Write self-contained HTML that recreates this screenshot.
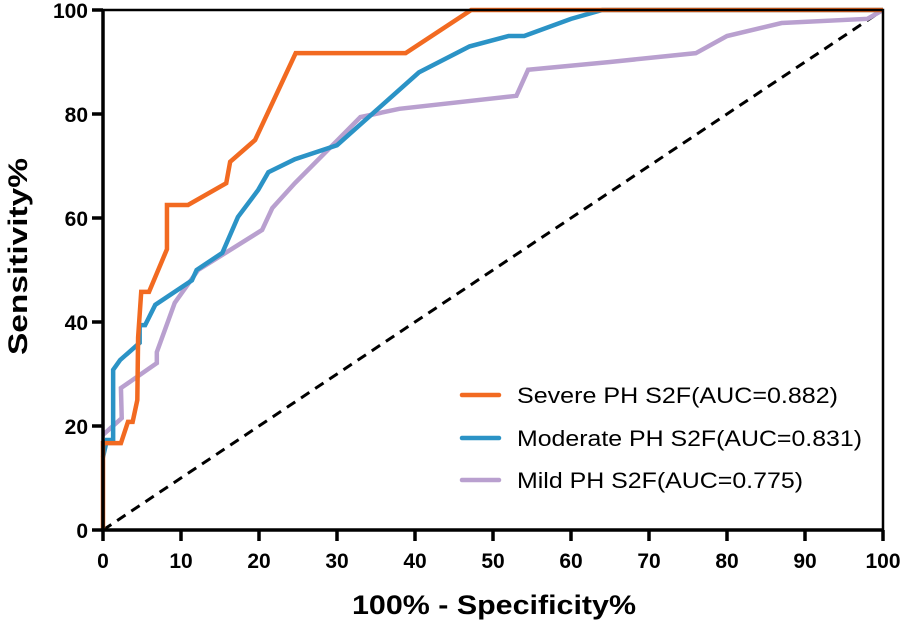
<!DOCTYPE html>
<html><head><meta charset="utf-8"><style>
body{margin:0;background:#fff}
svg text{font-family:"Liberation Sans",Arial,sans-serif}
</style></head><body>
<svg id="chart" width="905" height="623" xmlns="http://www.w3.org/2000/svg">
<g id="series"></g>
<g id="axes"></g>
<g id="legend"></g>
<text x="352" y="614" font-size="27" font-weight="bold" textLength="284" lengthAdjust="spacingAndGlyphs">100% - Specificity%</text>
<text transform="translate(27,355) rotate(-90)" font-size="27" font-weight="bold" textLength="197" lengthAdjust="spacingAndGlyphs">Sensitivity%</text>
</svg>
<script>
const xTicks=[0,10,20,30,40,50,60,70,80,90,100];
const yTicks=[0,20,40,60,80,100];
const seriesNames=["Severe PH S2F(AUC=0.882)","Moderate PH S2F(AUC=0.831)","Mild PH S2F(AUC=0.775)"];
const seriesColors=["#f26a21","#2b93c6","#b9a0cf"];
const severeX=[0,0,2.3,3.2,3.8,4.4,4.5,4.9,5.9,8.2,8.2,10.9,15.8,16.3,19.5,24.7,38.8,47.2,100];
const severeY=[0,16.7,16.7,20.8,20.8,25,37,45.8,45.8,54,62.5,62.5,66.7,70.8,75,91.7,91.7,100,100];
const moderateX=[0,0.5,1.3,1.3,2.2,4.7,4.7,5.4,6.7,11.4,12,15.3,17.3,19.9,21.2,24.6,30,40.5,47,52,54,60,64,100];
const moderateY=[14,17.3,17.3,30.8,32.7,36,39.4,39.4,43.3,48,50,53.3,60.2,65.4,68.8,71.3,74,88,93,95,95,98.3,100,100];
const mildX=[0,2.4,2.3,6.9,6.9,9.2,12.2,20.4,21.7,24.6,33,38,53,54.5,65,76,80,87,98,100];
const mildY=[18.3,21.5,27.3,32.1,34.2,43.7,50,57.7,61.9,66.7,79.4,81,83.5,88.5,90,91.7,95,97.5,98.3,100];
const X0=103,X1=883,Y0=530,Y1=10;
const sx=v=>X0+(X1-X0)*v/100, sy=v=>Y0-(Y0-Y1)*v/100;
const NS="http://www.w3.org/2000/svg";
function mk(t,a,p){const e=document.createElementNS(NS,t);for(const k in a)e.setAttribute(k,a[k]);p.appendChild(e);return e;}
const axesG=document.getElementById('axes'),seriesG=document.getElementById('series'),legendG=document.getElementById('legend');
const diag=mk('line',{x1:sx(0),y1:sy(0),x2:sx(100),y2:sy(100),stroke:'#000','stroke-width':3,'stroke-dasharray':'10,7'},seriesG);


const curveData=[[severeX,severeY],[moderateX,moderateY],[mildX,mildY]];
const curveKeys=['severe','moderate','mild'];
[2,1,0].forEach(i=>{
 const pts=curveData[i][0].map((x,j)=>sx(x)+','+sy(curveData[i][1][j])).join(' ');
 const p=mk('polyline',{points:pts,fill:'none',stroke:seriesColors[i],'stroke-width':4.5},seriesG);
 
 
});
const axPath=mk('path',{d:`M${X0},${Y1}V${Y0}H${X1}`,fill:'none',stroke:'#000','stroke-width':3.5},axesG);


const frame=mk('path',{d:`M${X0},${Y1}H${X1}V${Y0}`,fill:'none',stroke:'#000','stroke-width':2.5},axesG);


xTicks.forEach(v=>{
 mk('line',{x1:sx(v),x2:sx(v),y1:Y0,y2:Y0+11,stroke:'#000','stroke-width':3.5},axesG);
 const t=mk('text',{x:sx(v),y:568,'text-anchor':'middle','font-size':21,'font-weight':'bold'},axesG);
 t.textContent=v;
 
 
});
yTicks.forEach(v=>{
 mk('line',{x1:X0-11,x2:X0,y1:sy(v),y2:sy(v),stroke:'#000','stroke-width':3.5},axesG);
 const t=mk('text',{x:X0-15,y:sy(v)+8,'text-anchor':'end','font-size':21,'font-weight':'bold'},axesG);
 t.textContent=v;
 
 
});
const legendY=[395,438,480];
const legendW=[321,345,286];
seriesNames.forEach((n,i)=>{
 const g=mk('g',{},legendG);
 
 
 mk('line',{x1:462,x2:499,y1:legendY[i],y2:legendY[i],stroke:seriesColors[i],'stroke-width':4.5,'stroke-linecap':'round'},g);
 const t=mk('text',{x:517,y:legendY[i]+8,'font-size':22,textLength:legendW[i],lengthAdjust:'spacingAndGlyphs'},g);
 t.textContent=n;
});
</script>
</body></html>
